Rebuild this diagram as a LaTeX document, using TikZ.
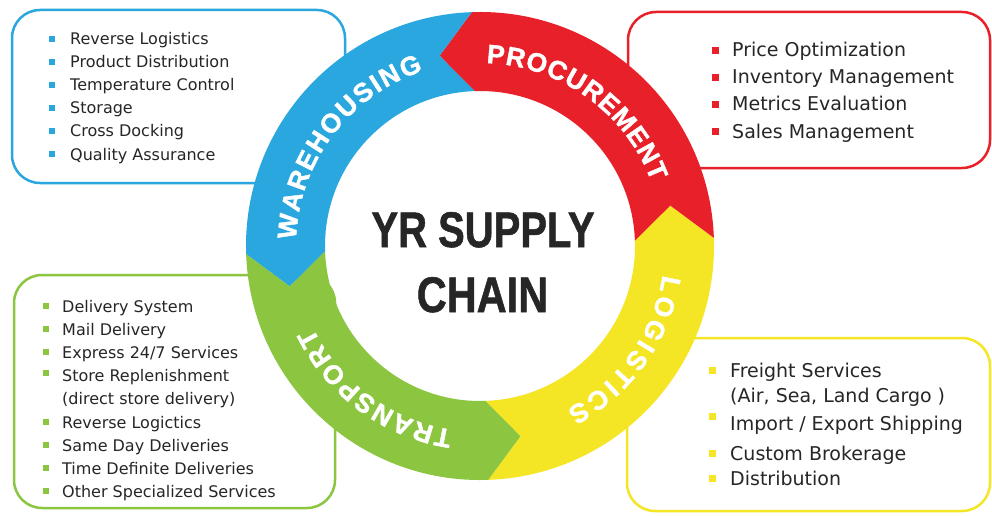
\documentclass[tikz,border=0pt]{standalone}
\usepackage{fontspec}
\setmainfont{DejaVu Sans}
\newfontfamily\titlefont{Liberation Sans}[BoldFeatures={FakeBold=1.2}]
\newfontfamily\ringfont{Liberation Sans}[BoldFeatures={FakeBold=1.5}]
\usetikzlibrary{decorations.text}
\definecolor{cblue}{HTML}{2AA7DF}
\definecolor{cred}{HTML}{E8202A}
\definecolor{cyellow}{HTML}{F5E625}
\definecolor{cgreen}{HTML}{8CC540}
\definecolor{ctext}{HTML}{262626}
\tikzset{
  box/.style={draw=#1, line width=2.5pt, fill=white, rounded corners=28pt},
  bul/.style={fill=#1, inner sep=0pt, minimum size=6.5pt},
  itemS/.style={anchor=base west, inner sep=0pt, text=ctext, font=\fontsize{16}{18}\selectfont},
  itemL/.style={anchor=base west, inner sep=0pt, text=ctext, font=\fontsize{19}{21}\selectfont},
  ringtext/.style={decorate, decoration={text along path, text align={fit to path}, text color=white,
     text={|\ringfont\bfseries\fontsize{26.5}{26.5}\selectfont|#1}}},
  ttl/.style={anchor=base, inner sep=0pt, text=ctext, font=\titlefont\bfseries\fontsize{50}{50}\selectfont},
}
\begin{document}
\begin{tikzpicture}[x=1pt,y=1pt]
\useasboundingbox (0,0) rectangle (992,515);
\fill[white] (0,0) rectangle (992,515);

% boxes
\draw[box=cblue] (12,332) rectangle (345,505);
\draw[box=cred] (628,347) rectangle (990,503);
\draw[box=cgreen] (14,7) rectangle (335,240);
\draw[box=cyellow] (627,4) rectangle (990,177);

% ring
\begin{scope}[shift={(480,269)}]
\fill[cyellow] (-88:234) arc[start angle=-88, end angle=2, radius=234] -- (12:194.5) -- (2:155)
   arc[start angle=2, end angle=-88, radius=155] -- (-78:194.5) -- cycle;
\fill[cred] (2:234) arc[start angle=2, end angle=92, radius=234] -- (102:194.5) -- (92:155)
   arc[start angle=92, end angle=2, radius=155] -- (12:194.5) -- cycle;
\fill[cblue] (92:234) arc[start angle=92, end angle=182, radius=234] -- (192:194.5) -- (182:155)
   arc[start angle=182, end angle=92, radius=155] -- (102:194.5) -- cycle;
\fill[cgreen] (182:234) arc[start angle=182, end angle=272, radius=234] -- (282:194.5) -- (272:155)
   arc[start angle=272, end angle=182, radius=155] -- (192:194.5) -- cycle;

\path[ringtext=WAREHOUSING] (178:184) arc[start angle=178, end angle=108, radius=184];
\path[ringtext=PROCUREMENT] (88:183) arc[start angle=88, end angle=20.5, radius=183];
\path[ringtext=LOGISTICS] (-9:185) arc[start angle=-9, end angle=-62, radius=185];
\path[ringtext=TRANSPORT] (-98.5:186) arc[start angle=-98.5, end angle=-154, radius=186];
\end{scope}

% centre title
\node[ttl] (t1) at (483,268) {\scalebox{0.8}[1]{YR SUPPLY}};
\node[ttl] (t2) at (482.5,203) {\scalebox{0.83}[1]{CHAIN}};

% warehousing list
\foreach \t [count=\i] in {Reverse Logistics, Product Distribution, Temperature Control, Storage, Cross Docking, Quality Assurance}{
  \node[itemS] (w\i) at (70,493-23*\i) {\t};
  \node[bul=cblue] (wb\i) at (52,498.8-23*\i) {};
}

% procurement list
\foreach \t [count=\i] in {Price Optimization, Inventory Management, Metrics Evaluation, Sales Management}{
  \node[itemL] (p\i) at (732,485-27*\i) {\t};
  \node[bul=cred, minimum size=7pt] (pb\i) at (715,491.9-27*\i) {};
}

% transport list
\node[itemS] (g1) at (62,203) {Delivery System};
\node[itemS] (g2) at (62,180) {Mail Delivery};
\node[itemS] (g3) at (62,157) {Express 24/7 Services};
\node[itemS] (g4) at (62,134) {Store Replenishment};
\node[itemS] (g5) at (62,111) {(direct store delivery)};
\node[itemS] (g6) at (62,87) {Reverse Logictics};
\node[itemS] (g7) at (62,64) {Same Day Deliveries};
\node[itemS] (g8) at (62,41) {Time Definite Deliveries};
\node[itemS] (g9) at (62,18) {Other Specialized Services};
\foreach \y [count=\i] in {203,180,157,136,87,64,41,18}{
  \node[bul=cgreen] (gb\i) at (46,\y+5.8) {};
}

% logistics list
\node[itemL] (y1) at (730,138) {Freight Services};
\node[itemL] (y2) at (730,113) {(Air, Sea, Land Cargo )};
\node[itemL] (y3) at (730,85) {Import / Export Shipping};
\node[itemL] (y4) at (730,55) {Custom Brokerage};
\node[itemL] (y5) at (730,30) {Distribution};
\foreach \y [count=\i] in {138,92,55,30}{
  \node[bul=cyellow, minimum size=7pt] (yb\i) at (712,\y+6.9) {};
}
\end{tikzpicture}
\end{document}
